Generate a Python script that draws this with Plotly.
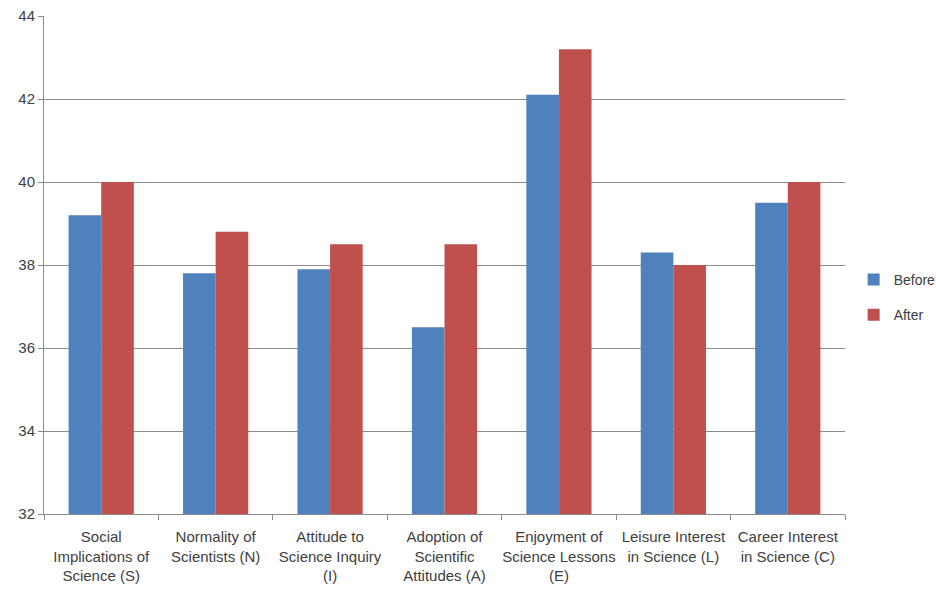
import plotly.graph_objects as go

# Attitude scale scores before and after the intervention
categories = [
    "Social<br>Implications of<br>Science (S)",
    "Normality of<br>Scientists (N)",
    "Attitude to<br>Science Inquiry<br>(I)",
    "Adoption of<br>Scientific<br>Attitudes (A)",
    "Enjoyment of<br>Science Lessons<br>(E)",
    "Leisure Interest<br>in Science (L)",
    "Career Interest<br>in Science (C)",
]
before = [39.2, 37.8, 37.9, 36.5, 42.1, 38.3, 39.5]
after = [40.0, 38.8, 38.5, 38.5, 43.2, 38.0, 40.0]
y_ticks = [32, 34, 36, 38, 40, 42, 44]

text_color = "#404040"
grid_color = "#8c8c8c"

fig = go.Figure()
fig.add_trace(go.Bar(name="Before", x=categories, y=before,
                     marker=dict(color="#4F81BD", line=dict(width=0)),
                     legendgroup="b"))
fig.add_trace(go.Bar(name="After", x=categories, y=after,
                     marker=dict(color="#C0504D", line=dict(width=0)),
                     legendgroup="a"))

fig.update_layout(
    width=936, height=589,
    margin=dict(l=44, r=91, t=16, b=75, autoexpand=False),
    paper_bgcolor="white", plot_bgcolor="white",
    barmode="group", bargap=0.43, bargroupgap=0,
    font=dict(family="Liberation Sans, Arial, sans-serif", size=13, color=text_color),
    legend=dict(xref="container", x=0.912, y=0.435, xanchor="left", yanchor="middle",
                traceorder="grouped", tracegroupgap=14, itemwidth=30,
                font=dict(size=14, color=text_color),
                bgcolor="rgba(0,0,0,0)"),
    xaxis=dict(
        showline=True, linecolor=grid_color, linewidth=1,
        ticks="outside", tickson="boundaries", ticklen=5, tickcolor=grid_color,
        tickfont=dict(size=15), tickangle=0, showgrid=False, automargin=False,
        ticklabelstandoff=9,
    ),
    yaxis=dict(
        range=[32, 44], tickvals=y_ticks,
        showline=True, linecolor=grid_color, linewidth=1,
        ticks="outside", ticklen=5, tickcolor=grid_color,
        showgrid=True, gridcolor=grid_color, gridwidth=1,
        tickfont=dict(size=15), zeroline=False, automargin=False,
    ),
)

fig.write_html("out.html")
